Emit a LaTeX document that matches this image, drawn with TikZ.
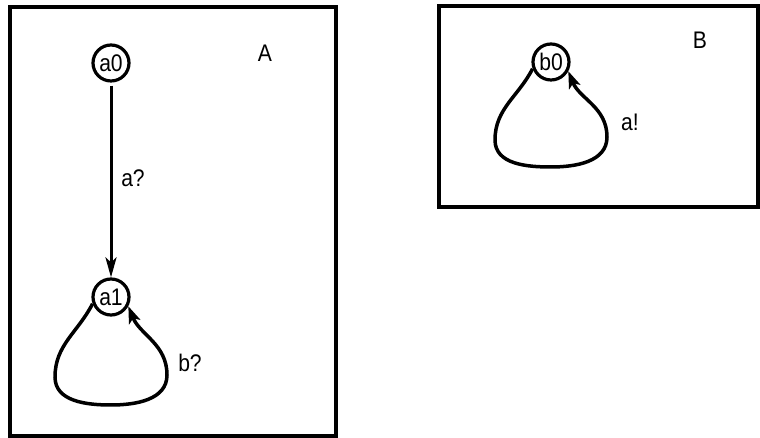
\documentclass[tikz,border=0pt]{standalone}
\usepackage{fontspec}
\setmainfont{Liberation Sans}[FakeStretch=0.88]
\usetikzlibrary{arrows.meta}
\begin{document}
\begin{tikzpicture}[x=1pt,y=1pt,
  frame/.style={draw=black,line width=4.5pt},
  state/.style={draw=black,circle,line width=3.2pt,minimum size=36pt,inner sep=0pt,font=\fontsize{24}{26}\selectfont},
  lbl/.style={font=\fontsize{24}{26}\selectfont,inner sep=0pt},
  trans/.style={line width=3pt,-{Stealth[length=20pt,width=11pt,inset=5pt]}},
  selfloop/.style={line width=3.5pt,-{Stealth[length=17pt,width=12pt,inset=4pt]}}]
\useasboundingbox (0,0) rectangle (760,438);
% boxes
\draw[frame] (10,431) rectangle (336,2);
\draw[frame] (439,432) rectangle (758,231);
% states
\node[state] (a0) at (111,375) {a0};
\node[state] (a1) at (111,141) {a1};
\node[state] (b0) at (551,376) {b0};
% labels
\node[lbl] (labA) at (265,385) {A};
\node[lbl] (labB) at (700,398) {B};
\node[lbl] (la) at (133,260) {a?};
\node[lbl] (lb) at (190,75) {b?};
\node[lbl] (lc) at (630,316) {a!};
% transitions
\draw[trans,shorten <=3pt] (a0) -- (a1);
\draw[selfloop] (a1.200) to[out=243,in=90] ([shift={(-56,-80)}]a1.center)
  to[out=-90,in=180] ([shift={(0,-108)}]a1.center)
  to[out=0,in=-90] ([shift={(56,-78)}]a1.center)
  to[out=90,in=292] (a1.-28);
\draw[selfloop] (b0.200) to[out=243,in=90] ([shift={(-56,-78)}]b0.center)
  to[out=-90,in=180] ([shift={(0,-105)}]b0.center)
  to[out=0,in=-90] ([shift={(56,-75)}]b0.center)
  to[out=90,in=292] (b0.-28);
\end{tikzpicture}
\end{document}
